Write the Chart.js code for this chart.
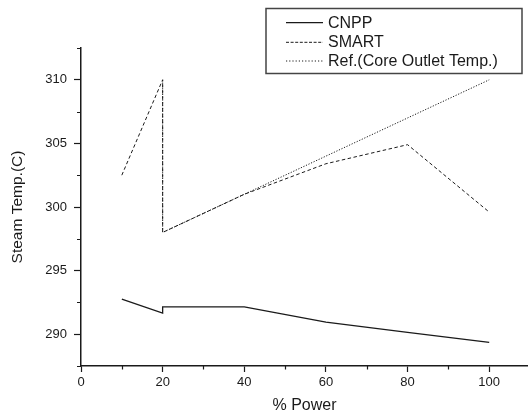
<!DOCTYPE html>
<html>
<head>
<meta charset="utf-8">
<script src="https://cdn.jsdelivr.net/npm/chart.js@4/dist/chart.umd.min.js"></script>
<style>
  html, body { margin: 0; padding: 0; background: #fff; }
  canvas { display: block; }
</style>
</head>
<body>
<canvas id="chart" width="528" height="418"></canvas>
<script>
'use strict';

// Steam temperature vs. power

var cnppX = [10, 20, 20, 40, 60, 80, 100];
var cnppY = [292.75, 291.65, 292.15, 292.15, 290.95, 290.15, 289.35];
var smartX = [10, 20, 20, 40, 60, 80, 100];
var smartY = [302.5, 310, 298, 301, 303.4, 304.9, 299.6];
var refX = [20, 20, 40, 60, 80, 100];
var refY = [310, 298, 301, 304, 307, 310];

var xTicks = [0, 20, 40, 60, 80, 100];
var yTicks = [290, 295, 300, 305, 310];

function pts(xs, ys) {
	return xs.map(function (x, i) { return { x: x, y: ys[i] }; });
}

var ink = '#1a1a1a';
var font = 'Liberation Sans, Arial, sans-serif';

// minor ticks (short) drawn on the library's scales
var minorTicks = {
	id: 'minorTicks',
	afterDraw: function (chart) {
		var c = chart.ctx, a = chart.chartArea;
		var xs = chart.scales.x, ys = chart.scales.y;
		c.save();
		c.strokeStyle = ink;
		c.lineWidth = 1.2;
		c.beginPath();
		for (var v = 10; v < 109; v += 20) {
			var px = Math.round(xs.getPixelForValue(v)) + 0.5;
			c.moveTo(px, a.bottom);
			c.lineTo(px, a.bottom + 3.5);
		}
		for (var w = 287.5; w <= 312.5; w += 5) {
			var py = Math.round(ys.getPixelForValue(w)) + 0.5;
			c.moveTo(a.left, py);
			c.lineTo(a.left - 4, py);
		}
		c.stroke();
		c.restore();
	}
};

// boxed legend, top right
var boxLegend = {
	id: 'boxLegend',
	afterDraw: function (chart) {
		var c = chart.ctx;
		c.save();
		c.fillStyle = '#fff';
		c.fillRect(266, 8.5, 256, 65);
		c.strokeStyle = '#444';
		c.lineWidth = 1.5;
		c.strokeRect(266, 8.5, 256, 65);
		var rows = [22.7, 42.3, 61];
		chart.data.datasets.forEach(function (ds, i) {
			c.setLineDash(ds.legendDash);
			c.strokeStyle = ds.borderColor;
			c.lineWidth = ds.borderWidth;
			c.beginPath();
			c.moveTo(286, rows[i]);
			c.lineTo(323, rows[i]);
			c.stroke();
			c.setLineDash([]);
			c.fillStyle = ink;
			c.font = '16px ' + font;
			c.textBaseline = 'middle';
			c.fillText(ds.label, 328, rows[i] + 0.5);
		});
		c.restore();
	}
};

var ctx = document.getElementById('chart');

var chart = new Chart(ctx, {
	type: 'line',
	data: {
		datasets: [{
			label: 'CNPP',
			data: pts(cnppX, cnppY),
			borderColor: ink,
			borderWidth: 1.3,
			legendDash: []
		}, {
			label: 'SMART',
			data: pts(smartX, smartY),
			borderColor: ink,
			borderWidth: 1,
			borderDash: [3.5, 2.5],
			legendDash: [3, 1.6]
		}, {
			label: 'Ref.(Core Outlet Temp.)',
			data: pts(refX, refY),
			borderColor: ink,
			borderWidth: 1,
			borderDash: [1.2, 1.6],
			legendDash: [1.2, 2]
		}]
	},
	options: {
		responsive: false,
		animation: false,
		layout: { padding: { left: 4, top: 48, right: 0, bottom: 0 } },
		elements: {
			point: { radius: 0 },
			line: { tension: 0, fill: false }
		},
		plugins: {
			legend: { display: false },
			tooltip: { enabled: false }
		},
		scales: {
			x: {
				type: 'linear',
				min: 0,
				max: 109.5,
				afterFit: function (s) { s.height = 52; },
				border: { display: true, color: ink, width: 1.5 },
				grid: { drawOnChartArea: false, tickLength: 6, tickColor: ink, tickWidth: 1.2 },
				ticks: {
					stepSize: 20,
					includeBounds: false,
					autoSkip: false,
					maxRotation: 0,
					padding: 3,
					color: ink,
					font: { family: font, size: 13 },
					callback: function (v) { return xTicks.indexOf(v) >= 0 ? String(v) : ''; }
				},
				title: {
					display: true,
					text: '% Power',
					color: ink,
					font: { family: font, size: 16 },
					padding: { top: 0, bottom: 3 }
				}
			},
			y: {
				min: 287.5,
				max: 312.5,
				afterFit: function (s) { s.width = 77; },
				border: { display: true, color: ink, width: 1.5 },
				grid: {
					drawOnChartArea: false,
					tickLength: 7,
					tickWidth: 1.2,
					tickColor: function (c) {
						return c.tick && yTicks.indexOf(c.tick.value) >= 0 ? ink : 'rgba(0,0,0,0)';
					}
				},
				ticks: {
					stepSize: 2.5,
					autoSkip: false,
					padding: 7,
					color: ink,
					font: { family: font, size: 13 },
					callback: function (v) { return yTicks.indexOf(v) >= 0 ? String(v) : ''; }
				},
				title: {
					display: true,
					text: 'Steam Temp.(C)',
					color: ink,
					font: { family: font, size: 15.5 },
					padding: { top: 4, bottom: 4 }
				}
			}
		}
	},
	plugins: [minorTicks, boxLegend]
});
</script>
</body>
</html>
